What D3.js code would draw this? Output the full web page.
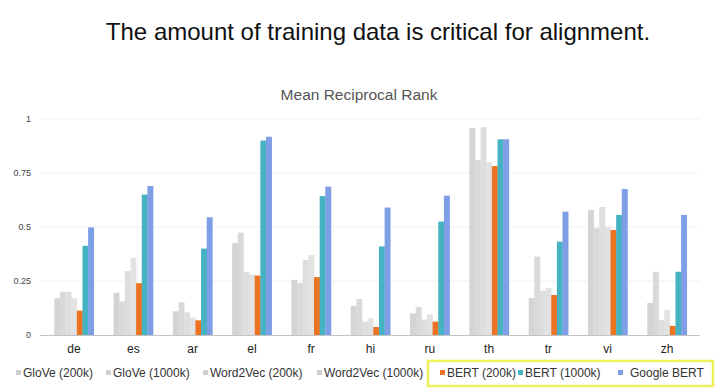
<!DOCTYPE html>
<html>
<head>
<meta charset="utf-8">
<script src="https://cdn.jsdelivr.net/npm/d3@7"></script>
<style>
  body { margin: 0; background: #fff; }
  svg { font-family: "Liberation Sans", Arial, sans-serif; display: block; }
</style>
</head>
<body>
<div class="chart"></div>
<script>
const w = 720;
const h = 391;

// data
const languages = ['de', 'es', 'ar', 'el', 'fr', 'hi', 'ru', 'th', 'tr', 'vi', 'zh'];
const seriesNames = ['GloVe (200k)', 'GloVe (1000k)', 'Word2Vec (200k)', 'Word2Vec (1000k)',
  'BERT (200k)', 'BERT (1000k)', 'Google BERT'];
const glove200k = [0.17, 0.196, 0.11, 0.425, 0.255, 0.135, 0.10, 0.958, 0.171, 0.579, 0.148];
const glove1000k = [0.20, 0.155, 0.152, 0.474, 0.24, 0.167, 0.13, 0.81, 0.363, 0.495, 0.293];
const w2v200k = [0.20, 0.296, 0.105, 0.293, 0.347, 0.062, 0.072, 0.962, 0.205, 0.593, 0.069];
const w2v1000k = [0.17, 0.358, 0.08, 0.28, 0.37, 0.078, 0.095, 0.80, 0.217, 0.50, 0.116];
const bert200k = [0.113, 0.24, 0.068, 0.275, 0.268, 0.037, 0.062, 0.782, 0.185, 0.486, 0.042];
const bert1000k = [0.413, 0.65, 0.40, 0.90, 0.643, 0.41, 0.525, 0.906, 0.432, 0.556, 0.293];
const googleBert = [0.498, 0.69, 0.545, 0.918, 0.687, 0.59, 0.645, 0.906, 0.571, 0.676, 0.556];
const yTicks = [0, 0.25, 0.5, 0.75, 1];

const allSeries = [glove200k, glove1000k, w2v200k, w2v1000k, bert200k, bert1000k, googleBert];
const colors = ['#d4d4d4', '#d9d9d9', '#dedede', '#e2e2e2', '#ec7321', '#45b3c2', '#7e9fe6'];

const svg = d3.select('.chart').append('svg').attr('width', w).attr('height', h);

svg.append('text')
  .attr('x', 378).attr('y', 40)
  .attr('text-anchor', 'middle')
  .attr('font-size', 24)
  .attr('fill', '#111')
  .text('The amount of training data is critical for alignment.');

svg.append('text')
  .attr('x', 359).attr('y', 100)
  .attr('text-anchor', 'middle')
  .attr('font-size', 15.5)
  .attr('fill', '#555')
  .text('Mean Reciprocal Rank');

// scales
const x0 = d3.scaleBand()
  .domain(languages)
  .range([44.35, 696.65])
  .paddingInner(0.334)
  .paddingOuter(0.167);

const x1 = d3.scaleBand()
  .domain(d3.range(seriesNames.length))
  .range([0, x0.bandwidth()]);

const yScale = d3.scaleLinear().domain([0, 1]).range([335, 119]);

// grid
svg.append('g')
  .selectAll('line')
  .data(yTicks.slice(1))
  .enter()
  .append('line')
  .attr('x1', 40).attr('x2', 700)
  .attr('y1', (d) => yScale(d)).attr('y2', (d) => yScale(d))
  .attr('stroke', '#f1f1f1');

// left axis (labels only)
const yAxis = d3.axisLeft(yScale).tickValues(yTicks).tickSize(0).tickPadding(0)
  .tickFormat((d) => String(d));
svg.append('g')
  .attr('transform', 'translate(31,0)')
  .call(yAxis)
  .call((g) => g.select('.domain').remove())
  .call((g) => g.selectAll('text')
    .attr('font-size', 9).attr('fill', '#444')
    .attr('font-family', '"Liberation Sans", Arial, sans-serif'));

// bars
const groups = svg.append('g')
  .selectAll('g')
  .data(languages)
  .enter()
  .append('g')
  .attr('transform', (d) => `translate(${x0(d)},0)`);

groups.selectAll('rect')
  .data((d, i) => allSeries.map((s, k) => ({ k: k, v: s[i] })))
  .enter()
  .append('rect')
  .attr('x', (d) => x1(d.k))
  .attr('width', x1.bandwidth() + 0.3)
  .attr('y', (d) => yScale(d.v))
  .attr('height', (d) => yScale(0) - yScale(d.v))
  .attr('fill', (d) => colors[d.k]);

// bottom axis
const xAxis = d3.axisBottom(x0).tickSize(0).tickPadding(9);
svg.append('g')
  .attr('transform', `translate(0,${yScale(0)})`)
  .call(xAxis)
  .call((g) => g.select('.domain').attr('stroke', '#c4c4c4').attr('d', 'M40,0.5H700'))
  .call((g) => g.selectAll('text')
    .attr('font-size', 12).attr('fill', '#222')
    .attr('font-family', '"Liberation Sans", Arial, sans-serif'));

// legend
const legendX = [16, 106, 203, 317, 440, 518, 618];
svg.append('rect')
  .attr('x', 428).attr('y', 361)
  .attr('width', 285).attr('height', 25)
  .attr('fill', 'none')
  .attr('stroke', '#eef05c')
  .attr('stroke-width', 2.5);

const legend = svg.append('g')
  .selectAll('g')
  .data(seriesNames)
  .enter()
  .append('g')
  .attr('transform', (d, i) => `translate(${legendX[i]},373)`);

legend.append('rect')
  .attr('x', 0).attr('y', -3)
  .attr('width', 5).attr('height', 5)
  .attr('fill', (d, i) => (i < 4 ? '#cfcfcf' : colors[i]));

legend.append('text')
  .attr('x', (d, i) => (i === 6 ? 12 : 7)).attr('y', 4)
  .attr('font-size', 12)
  .attr('fill', '#333')
  .text((d) => d);
</script>
</body>
</html>
